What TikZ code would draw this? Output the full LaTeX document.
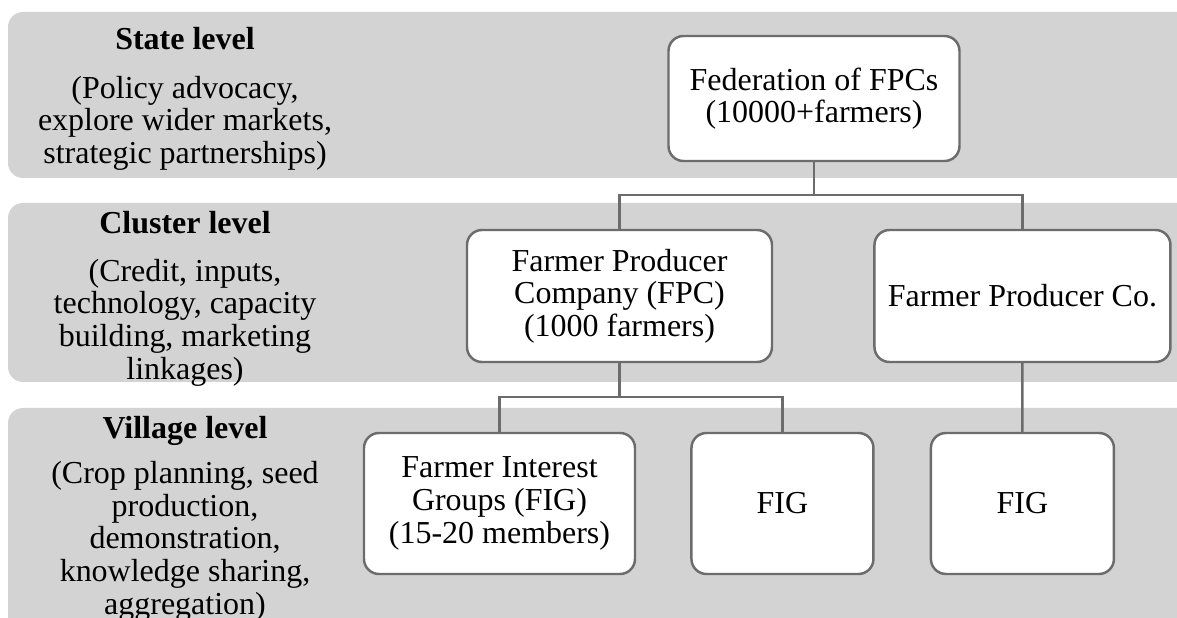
\documentclass[tikz,border=0pt]{standalone}
\usepackage{fontspec}
\setmainfont{Liberation Serif}
\usepackage{xcolor}
\usepackage{tikz}
\usetikzlibrary{positioning}
\definecolor{bandgray}{RGB}{211,211,211}
\definecolor{boxborder}{RGB}{108,108,108}

\begin{document}
\begin{tikzpicture}[node distance=1.1cm, font=\fontsize{18.2}{18.6}\selectfont]
  \tikzstyle{band}=[fill=bandgray,rounded corners=0.3cm]
  \tikzstyle{lvl}=[align=center,anchor=north,inner sep=0pt]
  \tikzstyle{blk}=[rectangle,rounded corners=0.3cm,draw=boxborder,line width=1.4pt,minimum height=2.82cm,align=center,fill=white]
  \tikzstyle{conn}=[draw=boxborder,line width=1.4pt]

  \clip (0,0) rectangle (23.54,-12.36);

  % level bands
  \fill[band] (0.16,-0.24) rectangle (24,-3.56);
  \fill[band] (0.16,-4.06) rectangle (24,-7.64);
  \fill[band] (0.16,-8.16) rectangle (24,-13);

  \node[lvl] (state) at (3.7,-0.54) {\textbf{State level}\\[9pt](Policy advocacy,\\explore wider markets,\\strategic partnerships)};
  \node[lvl] (cluster) at (3.7,-4.22) {\textbf{Cluster level}\\[8.5pt](Credit, inputs,\\technology, capacity\\building, marketing\\linkages)};
  \node[lvl] (village) at (3.7,-8.32) {\textbf{Village level}\\[7pt](Crop planning, seed\\production,\\demonstration,\\knowledge sharing,\\aggregation)};

  % organisation boxes
  \node[blk,minimum width=5.82cm,minimum height=2.5cm] (fed) at (16.28,-1.97) {Federation of FPCs\\(10000+farmers)};
  \node[blk,minimum width=6.1cm,minimum height=2.64cm] (fpc) at (12.39,-5.92) {Farmer Producer\\Company (FPC)\\(1000 farmers)};
  \node[blk,right=2cm of fpc,minimum width=5.92cm,minimum height=2.64cm] (fpco) {Farmer Producer Co.};

  \node[blk,minimum width=5.42cm] (fig1) at (9.99,-10.07) {Farmer Interest\\Groups (FIG)\\(15-20 members)};
  \node[blk,right=1.08cm of fig1,minimum width=3.64cm] (fig2) {FIG};
  \node[blk,right=1.1cm of fig2,minimum width=3.66cm] (fig3) {FIG};

  \draw[conn] (fed.south) -- ++(0,-0.66) -| (fpc.north);
  \draw[conn] (fed.south) -- ++(0,-0.66) -| (fpco.north);
  \draw[conn] (fpc.south) -- ++(0,-0.68) -| (fig1.north);
  \draw[conn] (fpc.south) -- ++(0,-0.68) -| (fig2.north);
  \draw[conn] (fpco.south) -- (fig3.north);
\end{tikzpicture}
\end{document}
